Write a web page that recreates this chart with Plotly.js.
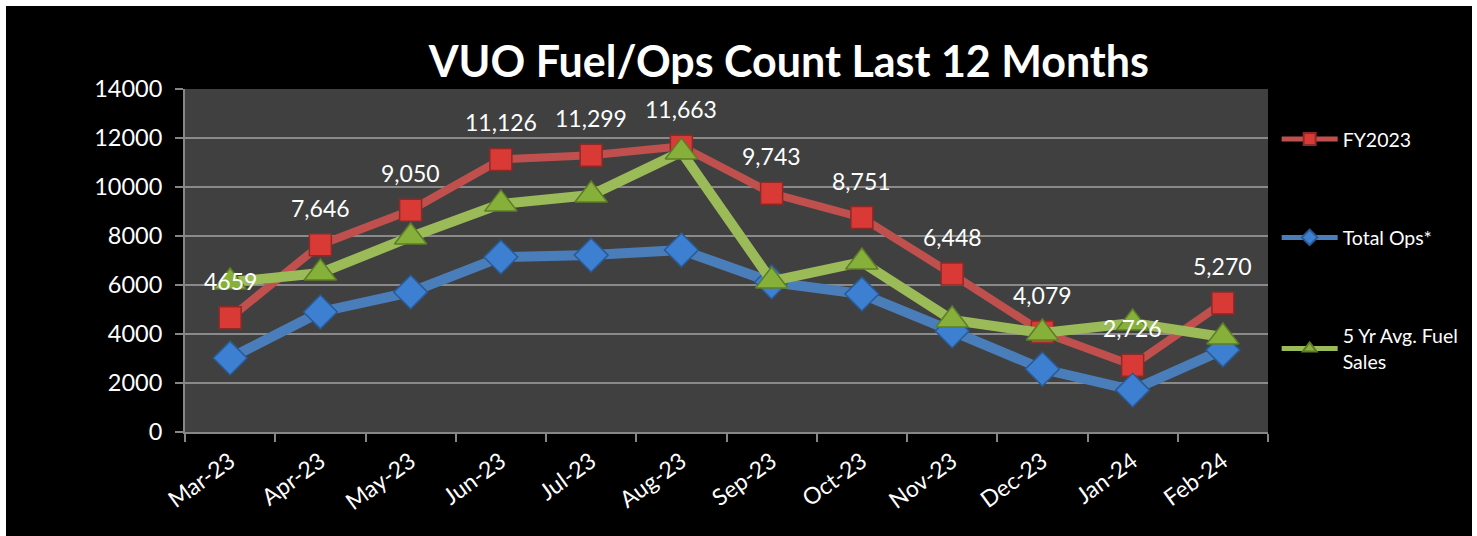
<!DOCTYPE html>
<html>
<head>
<meta charset="utf-8">
<script src="https://cdn.plot.ly/plotly-3.0.1.min.js"></script>
<style>
  html, body { margin: 0; padding: 0; background: #ffffff; }
  #chart { position: absolute; left: 6px; top: 6px; width: 1466px; height: 530px; }
</style>
</head>
<body>
<div id="chart"></div>
<script>
const months = ["Mar-23","Apr-23","May-23","Jun-23","Jul-23","Aug-23","Sep-23","Oct-23","Nov-23","Dec-23","Jan-24","Feb-24"];
const fy2023 = [4659, 7646, 9050, 11126, 11299, 11663, 9743, 8751, 6448, 4079, 2726, 5270];
const fy2023Labels = ["4659","7,646","9,050","11,126","11,299","11,663","9,743","8,751","6,448","4,079","2,726","5,270"];
const totalOps = [3020, 4900, 5710, 7140, 7220, 7430, 6120, 5630, 4120, 2570, 1710, 3350];
const fiveYrAvg = [6120, 6490, 7960, 9310, 9670, 11430, 6160, 6940, 4570, 4040, 4450, 3880];

const FONT = "Lato, 'Open Sans', sans-serif";

const traces = [
  {
    x: months, y: fy2023, name: "FY2023", type: "scatter", mode: "lines+markers",
    line: {color: "#c0504d", width: 8},
    marker: {symbol: "square", size: 22, color: "#d93a36", line: {color: "#8c2a28", width: 1.5}},
    legendgroup: "a"
  },
  {
    x: months, y: totalOps, name: "Total Ops*", type: "scatter", mode: "lines+markers",
    line: {color: "#4a7ebb", width: 10},
    marker: {symbol: "diamond", size: 26, color: "#3d7fd0", line: {color: "#2a5a94", width: 1.5}},
    legendgroup: "b"
  },
  {
    x: months, y: fiveYrAvg, name: "5 Yr Avg. Fuel<br>Sales", type: "scatter", mode: "lines+markers",
    line: {color: "#9bbb59", width: 10},
    marker: {symbol: "triangle-up", size: 28, color: "#86b039", line: {color: "#5d7d27", width: 1.5}},
    legendgroup: "c"
  }
];

const annotations = months.map((m, i) => ({
  x: m, y: fy2023[i], text: fy2023Labels[i], showarrow: false,
  yshift: 37, font: {family: FONT, size: 23, color: "#ffffff"}
}));

const layout = {
  width: 1466, height: 530,
  paper_bgcolor: "#000000",
  plot_bgcolor: "#404040",
  margin: {l: 179, r: 204, t: 83, b: 104, autoexpand: false},
  title: {
    text: "<b>VUO Fuel/Ops Count Last 12 Months</b>",
    font: {family: FONT, size: 43, color: "#ffffff"},
    x: 0.534, xanchor: "center", y: 0.895, yanchor: "middle"
  },
  showlegend: true,
  legend: {
    x: 1.008, xanchor: "left", y: 0.91, yanchor: "top",
    font: {family: FONT, size: 19.5, color: "#ffffff"},
    bgcolor: "rgba(0,0,0,0)",
    tracegroupgap: 70,
    itemwidth: 56,
    itemsizing: "constant",
    traceorder: "grouped"
  },
  xaxis: {
    type: "category",
    categoryorder: "array", categoryarray: months,
    tickson: "boundaries",
    ticks: "outside", ticklen: 8, tickwidth: 2, tickcolor: "#868686",
    showline: true, linecolor: "#868686", linewidth: 2,
    showgrid: false,
    tickangle: -36,
    ticklabelstandoff: 5,
    tickfont: {family: FONT, size: 23, color: "#ffffff"},
    range: [-0.5, 11.5],
    fixedrange: true
  },
  yaxis: {
    range: [0, 14000], dtick: 2000,
    tickformat: "d",
    ticks: "outside", ticklen: 8, tickwidth: 2, tickcolor: "#868686",
    showline: true, linecolor: "#868686", linewidth: 2,
    showgrid: true, gridcolor: "#8a8a8a", gridwidth: 2,
    zeroline: false,
    ticklabelstandoff: 8,
    tickfont: {family: FONT, size: 23.5, color: "#ffffff"},
    fixedrange: true
  },
  annotations: annotations
};

Plotly.newPlot("chart", traces, layout, {displayModeBar: false, staticPlot: true});
</script>
</body>
</html>
